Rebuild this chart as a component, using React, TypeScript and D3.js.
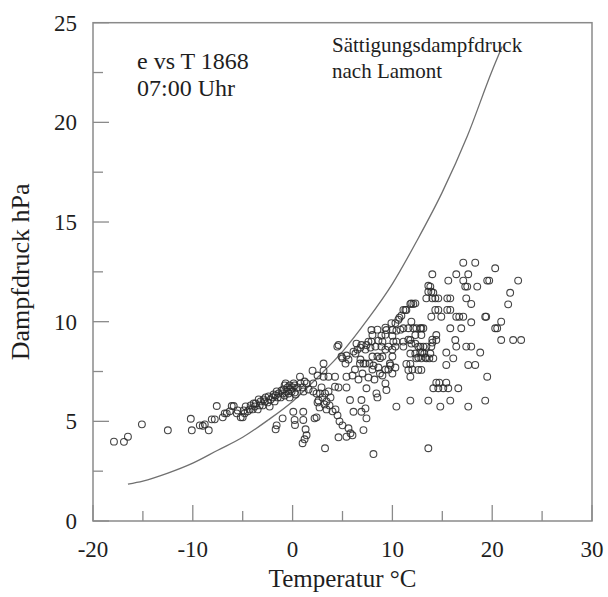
import React from "react";
import * as d3 from "d3";

// ---------- data ----------
type Pt = [number, number]; // [temperature °C, vapour pressure hPa]

const coldDays: Pt[] = [
  [-17.9, 3.98], [-16.9, 3.97], [-16.5, 4.23], [-15.1, 4.85], [-12.5, 4.55], [-10.2, 5.13],
  [-10.1, 4.55], [-9.3, 4.8], [-9.0, 4.78], [-8.8, 4.85], [-8.4, 4.55], [-8.1, 5.1], [-7.8, 5.1],
];

const winterBand: Pt[] = [
  [-7.6, 5.77], [-7.0, 5.2], [-6.8, 5.4], [-6.6, 5.4], [-6.3, 5.5], [-6.1, 5.77], [-5.9, 5.77],
  [-5.6, 5.4], [-5.5, 5.55], [-5.2, 5.2], [-5.0, 5.2], [-4.9, 5.55], [-4.8, 5.4], [-4.7, 5.75],
  [-4.5, 5.5], [-4.3, 5.6], [-4.2, 5.8], [-4.0, 5.6], [-3.9, 5.9], [-3.8, 5.75], [-3.7, 5.9],
  [-3.5, 5.6], [-3.4, 6.1], [-3.3, 5.8], [-3.2, 6.0], [-3.0, 5.8], [-2.9, 6.1], [-2.8, 6.0],
  [-2.7, 6.2], [-2.5, 5.95], [-2.4, 6.25], [-2.3, 5.74], [-2.2, 6.1], [-2.0, 6.2], [-1.9, 6.35],
  [-1.8, 6.0], [-1.7, 6.3], [-1.6, 6.5], [-1.5, 6.2], [-1.4, 6.4], [-1.2, 6.2], [-1.1, 6.55],
  [-1.0, 6.4], [-0.9, 6.6], [-0.8, 6.3], [-0.7, 6.9], [-0.6, 6.5], [-0.5, 6.7], [-0.4, 6.4],
  [-0.3, 6.8], [-0.2, 6.6], [-0.1, 6.5], [0.0, 6.7], [0.1, 6.9], [-1.7, 4.6], [-1.6, 4.8],
  [-1.0, 5.15], [-0.3, 6.2], [-0.8, 6.8], [0.2, 6.45],
];

const mildDays: Pt[] = [
  [0.74, 7.24], [1.2, 7.0], [2.0, 7.54], [2.5, 7.3], [3.1, 7.9], [3.1, 7.54], [3.1, 7.24],
  [3.6, 7.24], [4.48, 8.75], [5.0, 8.16], [5.3, 7.9],
  [0.2, 6.8], [0.5, 6.7], [0.8, 6.9], [1.0, 6.7], [1.4, 6.9], [1.1, 6.5], [0.3, 6.35], [1.6, 6.6],
  [2.07, 6.9], [2.07, 6.5], [2.4, 6.4], [2.75, 6.4], [3.25, 6.4], [2.9, 6.7], [3.0, 6.2],
  [2.6, 6.05], [3.4, 6.0], [3.6, 6.5], [3.8, 6.2], [2.5, 5.95], [3.2, 5.85], [3.7, 5.8],
  [0.07, 5.48], [1.07, 5.48], [0.2, 5.07], [1.07, 5.07], [0.24, 4.82], [1.3, 4.6], [1.4, 4.3],
  [1.2, 4.1], [1.0, 3.9], [2.2, 5.15], [2.4, 5.2], [2.7, 5.7], [3.4, 5.6], [4.0, 5.5], [4.3, 5.6],
  [4.5, 5.3], [4.7, 5.0], [5.0, 4.8], [5.6, 4.65], [5.8, 4.4], [6.0, 4.3], [5.4, 4.23], [4.6, 4.2],
  [3.25, 3.65], [7.1, 4.56], [6.1, 5.48], [6.9, 5.48], [7.3, 5.65], [7.4, 5.15], [8.1, 3.36],
  [4.25, 7.24], [4.25, 6.74], [4.6, 6.7], [5.4, 6.7], [5.75, 6.07], [6.9, 6.07], [7.4, 6.66],
  [8.4, 6.4], [8.5, 6.2], [9.4, 6.57], [9.3, 6.9], [10.4, 5.74],
  [5.4, 7.24], [6.0, 7.3], [6.25, 7.6], [6.6, 7.1], [6.75, 7.9], [7.0, 7.4], [7.3, 7.9], [7.6, 7.2],
  [7.7, 7.9], [8.0, 7.6], [8.2, 7.1], [8.75, 7.4], [8.75, 8.17], [9.0, 7.3], [9.6, 7.6],
  [9.75, 7.9], [10.0, 7.4],
];

const warmDays: Pt[] = [
  [7.9, 9.58], [8.5, 9.6], [9.4, 9.58], [10.0, 9.58], [10.4, 9.55], [10.8, 9.6],
  [8.0, 9.33], [8.9, 9.3], [9.3, 9.35], [10.0, 9.3],
  [7.6, 9.0], [7.9, 9.0], [8.6, 9.05], [9.0, 9.0], [10.1, 9.0], [10.4, 9.0], [11.1, 9.0], [11.6, 9.1],
  [6.1, 8.5], [6.3, 8.4], [6.4, 8.9], [6.5, 8.6], [6.8, 8.7], [6.9, 8.83], [7.4, 8.83],
  [7.3, 8.6], [7.8, 8.7], [8.3, 8.75], [8.9, 8.75], [9.3, 8.6], [9.6, 8.75], [10.0, 8.6], [10.3, 8.75],
  [8.0, 8.25], [8.5, 8.25], [9.0, 8.25], [10.0, 8.25],
  [11.9, 8.9], [12.3, 8.9], [12.6, 8.75], [13.4, 8.75],
  [11.8, 8.4], [12.3, 8.4], [12.6, 8.2], [13.3, 8.2],
  [4.6, 8.83], [5.4, 8.3], [5.6, 8.1], [4.9, 8.25],
  [6.8, 8.1], [7.1, 7.9], [8.1, 7.8], [8.6, 7.7], [9.3, 7.6], [9.8, 7.8], [10.3, 7.7],
  [9.3, 9.7], [9.9, 9.93], [10.3, 9.93], [10.6, 10.1], [10.9, 10.3], [10.7, 10.2], [11.3, 10.59],
  [11.4, 10.59], [11.9, 10.92], [12.3, 10.92], [11.6, 9.67], [12.1, 9.67], [12.8, 9.67], [13.1, 9.67],
];

const summerDays: Pt[] = [
  [17.1, 12.96], [18.3, 12.96], [20.3, 12.68], [14.0, 12.38], [16.4, 12.38], [17.6, 12.38],
  [22.6, 12.06], [15.6, 12.06], [17.1, 12.06], [19.5, 12.06], [19.7, 12.06], [13.8, 11.76],
  [17.3, 11.76], [17.5, 11.76], [18.5, 11.76], [21.8, 11.45], [14.1, 11.45], [13.4, 11.17],
  [14.0, 11.17], [14.3, 11.17], [14.6, 11.17], [15.5, 11.17], [15.8, 11.17], [17.4, 11.17],
  [17.9, 10.89], [21.6, 10.87], [12.1, 10.89], [11.8, 10.89], [11.1, 10.59], [14.3, 10.59],
  [14.6, 10.59], [15.5, 10.59], [15.8, 10.59], [13.9, 10.25], [14.9, 10.25], [16.4, 10.25],
  [16.7, 10.25], [17.1, 10.25], [17.9, 9.97], [19.3, 10.25], [19.4, 10.25], [20.9, 10.0],
  [20.3, 9.67], [20.5, 9.67], [11.9, 10.0], [12.4, 9.67], [12.9, 9.67], [15.8, 9.67], [16.9, 9.67],
  [11.1, 9.67], [12.3, 9.33], [12.9, 9.33], [14.4, 9.33], [14.4, 9.08], [11.8, 9.08], [16.3, 9.08],
  [20.9, 9.08], [22.1, 9.08], [22.9, 9.08], [11.1, 8.75], [12.8, 8.75], [13.1, 8.75], [13.9, 8.75],
  [16.4, 8.75], [17.4, 8.75], [17.9, 8.75], [18.8, 8.45], [12.8, 8.45], [13.0, 8.45], [15.4, 8.45],
  [12.4, 8.16], [12.9, 8.16], [13.4, 8.16], [13.7, 8.16], [14.1, 8.16], [16.1, 8.16], [11.4, 7.88],
  [11.8, 7.88], [15.4, 7.83], [17.6, 7.83], [18.3, 7.83], [11.6, 7.58], [12.6, 7.58], [12.9, 7.58],
  [11.8, 7.24], [19.5, 7.24], [14.4, 6.94], [14.7, 6.94], [15.4, 6.94], [14.1, 6.66], [14.6, 6.66],
  [15.1, 6.66], [15.6, 6.66], [16.6, 6.66], [11.8, 6.04], [13.6, 6.04], [15.8, 6.04], [19.3, 6.04],
  [14.8, 5.74], [17.6, 5.74], [13.6, 3.65], [12.0, 7.6], [13.2, 8.4], [13.8, 8.4], [14.0, 8.95],
  [14.0, 9.1], [13.6, 11.8], [13.6, 11.5], [13.9, 11.5],
];

// saturation vapour pressure curve (after Lamont)
const satTemp = [-16.5, -15, -12.5, -10, -7.5, -5, -2.5, 0, 2.5, 5, 7.5, 10, 12.5, 15, 17.5, 20, 21];
const satPressure = [1.85, 2.0, 2.4, 2.9, 3.55, 4.2, 5.05, 6.0, 7.2, 8.5, 10.1, 11.9, 14.1, 16.5, 19.3, 22.6, 23.8];

const xMajorTicks = [-20, -10, 0, 10, 20, 30];
const xMinorTicks = [-15, -5, 5, 15, 25];
const yMajorTicks = [0, 5, 10, 15, 20, 25];
const yMinorTicks = [2.5, 7.5, 12.5, 17.5, 22.5];

const allPoints: Pt[] = [...coldDays, ...winterBand, ...mildDays, ...warmDays, ...summerDays];

export default function App() {
  const W = 608, H = 597;
  const x = d3.scaleLinear().domain([-20, 30]).range([93, 592]);
  const y = d3.scaleLinear().domain([0, 25]).range([521, 22.7]);
  const font = "'Liberation Serif', 'Times New Roman', serif";
  const axisColor = "#8a8a8a";
  const textColor = "#1e1e1e";

  const line = d3
    .line<number>()
    .x((_, i) => x(satTemp[i]))
    .y((d) => y(d))
    .curve(d3.curveMonotoneX);

  const [x0, x1] = x.range();
  const [yb, yt] = y.range();
  const majorLen = 16, minorLen = 10;

  return (
    <svg width={W} height={H} style={{ position: "absolute", left: 0, top: 0, background: "#fff" }}>
      <rect x={0} y={0} width={W} height={H} fill="#fff" />
      {/* saturation curve */}
      <path d={line(satPressure) || ""} fill="none" stroke="#707070" strokeWidth={1.3} />

      {/* points */}
      <g fill="none" stroke="#2b2b2b" strokeWidth={1.1} strokeOpacity={0.88}>
        {allPoints.map((p, i) => (
          <circle key={i} cx={x(p[0])} cy={y(p[1])} r={3.4} />
        ))}
      </g>

      {/* frame */}
      <rect x={x0} y={yt} width={x1 - x0} height={yb - yt} fill="none" stroke={axisColor} strokeWidth={1.5} />

      {/* ticks */}
      <g stroke={axisColor} strokeWidth={1.3}>
        {xMajorTicks.map((t) => (
          <line key={"xM" + t} x1={x(t)} x2={x(t)} y1={yb} y2={yb - majorLen} />
        ))}
        {xMinorTicks.map((t) => (
          <line key={"xm" + t} x1={x(t)} x2={x(t)} y1={yb} y2={yb - minorLen} />
        ))}
        {yMajorTicks.map((t) => (
          <line key={"yM" + t} x1={x0} x2={x0 + majorLen} y1={y(t)} y2={y(t)} />
        ))}
        {yMinorTicks.map((t) => (
          <line key={"ym" + t} x1={x0} x2={x0 + minorLen} y1={y(t)} y2={y(t)} />
        ))}
      </g>

      {/* tick labels */}
      <g fontFamily={font} fontSize={23} fill={textColor}>
        {xMajorTicks.map((t) => (
          <text key={"xl" + t} x={x(t)} y={557} textAnchor="middle">
            {String(t)}
          </text>
        ))}
        {yMajorTicks.map((t) => (
          <text key={"yl" + t} x={77} y={y(t) + 8} textAnchor="end">
            {String(t)}
          </text>
        ))}
      </g>

      {/* axis titles */}
      <text x={(x0 + x1) / 2} y={587} textAnchor="middle" fontFamily={font} fontSize={25} fill={textColor}>
        Temperatur °C
      </text>
      <text
        transform={`translate(29, ${(yb + yt) / 2}) rotate(-90)`}
        textAnchor="middle"
        fontFamily={font}
        fontSize={26}
        fill={textColor}
      >
        Dampfdruck hPa
      </text>

      {/* annotations */}
      <g fontFamily={font} fill={textColor}>
        <text x={137} y={69} fontSize={24}>e vs T 1868</text>
        <text x={137} y={96} fontSize={24}>07:00 Uhr</text>
        <text x={332} y={52} fontSize={21}>Sättigungsdampfdruck</text>
        <text x={332} y={78} fontSize={21}>nach Lamont</text>
      </g>
    </svg>
  );
}
